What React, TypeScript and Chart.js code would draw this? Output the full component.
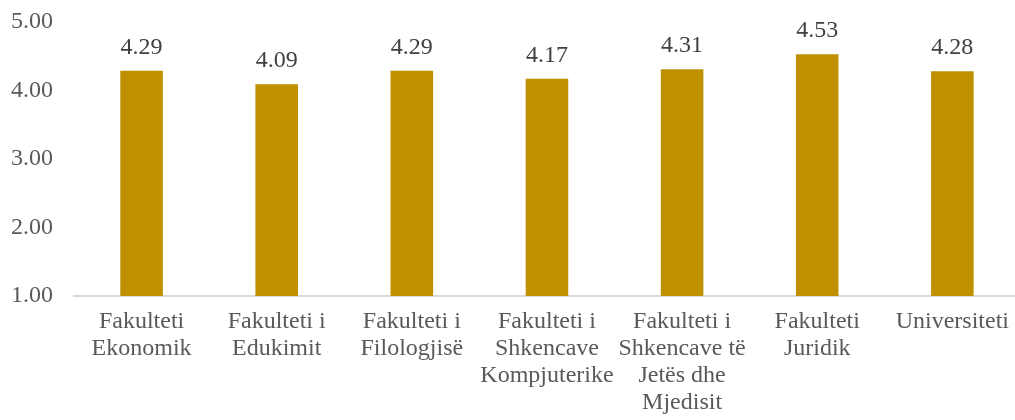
import React, { useEffect, useRef } from "react";
import { Chart, registerables } from "chart.js";

Chart.register(...registerables);

const categories: string[][] = [
  ["Fakulteti", "Ekonomik"],
  ["Fakulteti i", "Edukimit"],
  ["Fakulteti i", "Filologjisë"],
  ["Fakulteti i", "Shkencave", "Kompjuterike"],
  ["Fakulteti i", "Shkencave të", "Jetës dhe", "Mjedisit"],
  ["Fakulteti", "Juridik"],
  ["Universiteti"],
];
const values: number[] = [4.29, 4.09, 4.29, 4.17, 4.31, 4.53, 4.28];
const yTicks: number[] = [1, 2, 3, 4, 5];

const FONT = "'Liberation Serif'";

Chart.defaults.font.family = FONT;

const valueLabels = {
  id: "valueLabels",
  afterDatasetsDraw(chart: any) {
    const ctx = chart.ctx;
    const meta = chart.getDatasetMeta(0);
    ctx.save();
    ctx.font = `24px ${FONT}`;
    ctx.fillStyle = "#404040";
    ctx.textAlign = "center";
    ctx.textBaseline = "alphabetic";
    meta.data.forEach((bar: any, i: number) => {
      ctx.fillText(values[i].toFixed(2), bar.x, bar.y - 17);
    });
    ctx.restore();
  },
};

export default function App() {
  const ref = useRef<HTMLCanvasElement>(null);
  useEffect(() => {
    if (!ref.current) return;
    const chart = new Chart(ref.current, {
      type: "bar",
      data: {
        labels: categories,
        datasets: [
          {
            data: values,
            backgroundColor: "#BF9000",
            barPercentage: 0.315,
            categoryPercentage: 1,
          },
        ],
      },
      options: {
        animation: false,
        responsive: true,
        maintainAspectRatio: false,
        layout: { padding: { top: 22, right: 0, left: 11, bottom: 0 } },
        plugins: {
          legend: { display: false },
          tooltip: { enabled: false },
        },
        scales: {
          x: {
            grid: { display: false, drawTicks: false },
            border: { display: true, color: "#D9D9D9", width: 2 },
            afterFit: (s: any) => {
              s.height = 124;
            },
            ticks: {
              color: "#595959",
              font: { family: FONT, size: 24, lineHeight: 1.125 },
              padding: 12,
              maxRotation: 0,
              autoSkip: false,
            },
          },
          y: {
            min: 1,
            max: 5,
            afterBuildTicks: (axis: any) => {
              axis.ticks = yTicks.map((v) => ({ value: v }));
            },
            afterFit: (s: any) => {
              s.width = 63;
            },
            grid: { display: false, drawTicks: false },
            border: { display: false },
            ticks: {
              color: "#595959",
              font: { family: FONT, size: 24 },
              padding: 0,
              crossAlign: "far",
              callback: (v: any) => Number(v).toFixed(2),
            },
          },
        },
      },
      plugins: [valueLabels],
    });
    return () => chart.destroy();
  }, []);
  return (
    <div style={{ position: "fixed", left: 0, top: 0, width: 1015, height: 420, overflow: "hidden", background: "#fff" }}>
      <div style={{ position: "absolute", left: 0, top: 0, width: 1021, height: 420 }}>
        <canvas ref={ref} />
      </div>
    </div>
  );
}
